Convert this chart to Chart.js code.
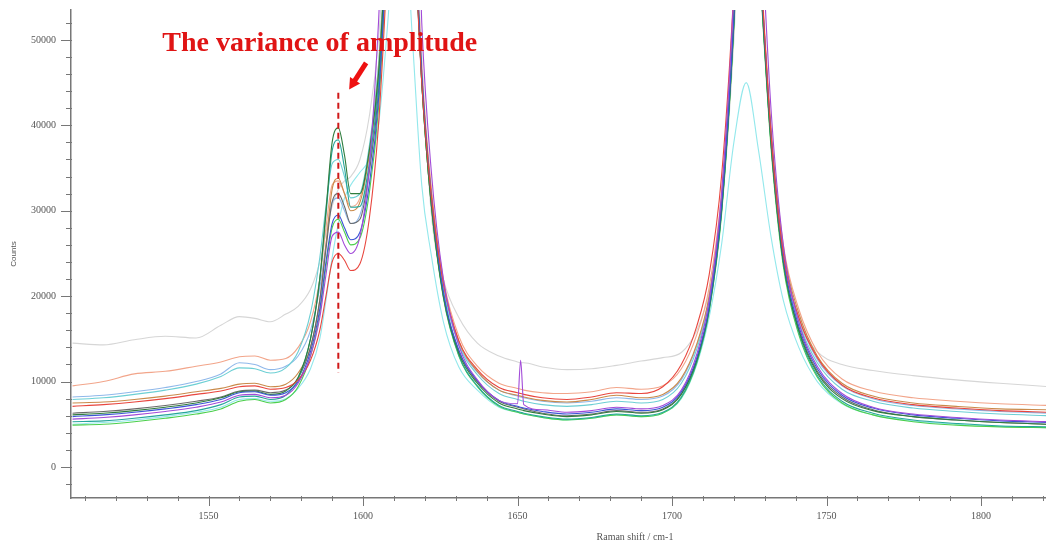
<!DOCTYPE html>
<html>
<head>
<meta charset="utf-8">
<script src="https://cdn.jsdelivr.net/npm/chart.js@4.4.1/dist/chart.umd.min.js"></script>
<style>
  body { margin: 0; background: #fff; overflow: hidden; }
  canvas { display: block; }
</style>
</head>
<body>
<canvas id="spectra" width="1046" height="547"></canvas>
<script>
// Raman spectra, counts vs raman shift (cm-1)
var ramanShift = [1506, 1516, 1526, 1536, 1546, 1554, 1560, 1565, 1570, 1575, 1579, 1583, 1586, 1588, 1590, 1592, 1594, 1596, 1599, 1602,
                  1605, 1608, 1612, 1616, 1619, 1622, 1626, 1631, 1637, 1644, 1650, 1651, 1652, 1658, 1666, 1674, 1682, 1690, 1697, 1703,
                  1708, 1712, 1716, 1720, 1724, 1728, 1732, 1736, 1741, 1747, 1755, 1765, 1778, 1792, 1806, 1822];

var gray = [14500, 14300, 14900, 15300, 15100, 16600, 17600, 17400, 17000, 17900, 18800, 20800, 24000, 27500, 30500, 32500, 33500, 34000, 36000, 41000,
            50000, 68000, 92000, 70000, 48000, 30000, 22000, 17500, 14500, 13000, 12300, 12200, 12200, 11700, 11400, 11500, 11900, 12400, 12800, 13400,
            16000, 20500, 30000, 50000, 82000, 60000, 38000, 24000, 17000, 13500, 12000, 11300, 10700, 10200, 9800, 9400];
var salmon = [9500, 10000, 10900, 11200, 11800, 12300, 12900, 13000, 12500, 12700, 14000, 17000, 22000, 28000, 33000, 33500, 32000, 30500, 31500, 37000,
              47000, 66000, 100000, 70000, 47000, 33000, 22000, 15300, 11800, 9800, 9200, 9100, 9000, 8700, 8600, 8800, 9300, 9100, 9500, 11500,
              15500, 21000, 32000, 54000, 88000, 63000, 40000, 26000, 18500, 13500, 10300, 8900, 8100, 7700, 7400, 7200];
var lightBlue = [8200, 8400, 8800, 9300, 10000, 10900, 12200, 12000, 11400, 11800, 13000, 16000, 21000, 26000, 31000, 31500, 30000, 28500, 29500, 35000,
                 45000, 64000, 98000, 68000, 45000, 31500, 21000, 14500, 11100, 9000, 8300, 8200, 8100, 7700, 7500, 7700, 8100, 7900, 8300, 10200,
                 14200, 19800, 31000, 53000, 87000, 62000, 39000, 25000, 17500, 12600, 9500, 8000, 7200, 6800, 6500, 6300];
var cyan = [7900, 8100, 8500, 9000, 9700, 10600, 11600, 11500, 11000, 11600, 13500, 18000, 24500, 30500, 35500, 36000, 34000, 31500, 32000, 37500,
            47000, 66000, 100000, 69000, 46000, 32000, 21000, 14300, 10800, 8600, 7900, 7800, 7700, 7300, 7100, 7300, 7700, 7500, 7900, 9800,
            13800, 19500, 30500, 52500, 86000, 61000, 38500, 24500, 17000, 12200, 9100, 7700, 6900, 6500, 6200, 6000];
var brown = [7500, 7600, 7900, 8300, 8800, 9200, 9700, 9800, 9400, 9700, 11000, 14000, 19500, 26000, 32500, 33800, 32000, 30000, 31000, 36500,
             46000, 65000, 99000, 69000, 46000, 32500, 21500, 14700, 11200, 9000, 8400, 8300, 8200, 7800, 7600, 7900, 8400, 8100, 8500, 10400,
             14400, 20000, 31000, 53000, 87000, 62000, 39500, 25500, 18000, 13000, 9800, 8300, 7500, 7100, 6800, 6700];
var red = [7100, 7300, 7600, 8000, 8500, 8900, 9400, 9500, 9100, 9300, 10200, 12500, 16000, 20000, 24000, 25000, 24200, 23000, 23800, 29000,
           40000, 60000, 95000, 67000, 45000, 32000, 21500, 14800, 11400, 9300, 8700, 8600, 8500, 8100, 7900, 8200, 8700, 8600, 9400, 12000,
           16500, 22500, 34000, 56000, 90000, 63000, 39000, 25000, 17500, 12800, 9600, 8100, 7300, 6900, 6600, 6400];
var darkGreen = [6100, 6300, 6600, 7000, 7500, 8100, 8800, 8900, 8500, 8900, 10500, 15000, 22000, 30000, 38000, 39700, 36500, 32000, 32000, 37000,
                 46000, 65000, 99000, 68000, 45000, 31000, 20000, 13300, 9800, 7500, 6800, 6700, 6600, 6200, 5900, 6100, 6500, 6300, 6700, 8500,
                 12500, 18500, 30000, 52000, 86000, 61000, 38000, 24000, 16000, 11000, 8000, 6600, 5900, 5500, 5200, 5000];
var blue = [5900, 6100, 6400, 6800, 7300, 7900, 8700, 8800, 8400, 8700, 10000, 13500, 18500, 24000, 28500, 29500, 28000, 26600, 27500, 33000,
            43000, 63000, 97000, 68000, 46000, 32000, 20500, 13700, 10100, 7800, 7100, 7000, 6900, 6500, 6200, 6400, 6800, 6600, 7000, 8800,
            12800, 18800, 30500, 52500, 87000, 62000, 39000, 24500, 16500, 11500, 8400, 6900, 6100, 5700, 5400, 5200];
var darkGray = [6300, 6500, 6800, 7200, 7700, 8200, 8900, 9000, 8700, 9000, 10400, 14000, 19500, 25500, 31000, 32000, 30500, 28500, 29000, 34500,
                44000, 64000, 97000, 67000, 45000, 31000, 20200, 13500, 10000, 7700, 7000, 6900, 6800, 6300, 6000, 6200, 6600, 6400, 6800, 8600,
                12600, 18600, 30000, 52000, 86000, 61000, 38500, 24000, 16200, 11200, 8200, 6700, 5900, 5500, 5200, 5000];
var green = [4900, 5000, 5300, 5700, 6200, 6800, 7700, 7900, 7500, 7900, 9400, 13000, 18000, 23500, 28000, 29000, 27500, 26000, 26800, 32000,
             42000, 62000, 96000, 67000, 45000, 31000, 19800, 13000, 9400, 7100, 6400, 6300, 6200, 5800, 5500, 5700, 6100, 5900, 6300, 8100,
             12200, 18200, 29500, 51500, 85000, 60500, 37500, 23500, 15500, 10500, 7500, 6100, 5300, 4900, 4700, 4600];
var teal = [5300, 5400, 5700, 6100, 6600, 7300, 8200, 8300, 7900, 8400, 10300, 15000, 22000, 29500, 37000, 38300, 35000, 30400, 30500, 35500,
            45000, 64000, 98000, 68000, 45500, 31500, 20000, 13100, 9500, 7200, 6500, 6400, 6300, 5900, 5600, 5800, 6200, 6000, 6400, 8200,
            12300, 18300, 29800, 52000, 86000, 61000, 38000, 24000, 15800, 10700, 7700, 6300, 5500, 5100, 4800, 4700];
var purple = [5600, 5800, 6100, 6500, 7000, 7600, 8400, 8500, 8100, 8400, 9800, 13000, 17500, 22500, 27000, 27500, 26000, 25000, 27000, 35000,
              52000, 76000, 120000, 86000, 52000, 35000, 22000, 14200, 10200, 7800, 7400, 12500, 7300, 6700, 6400, 6600, 7000, 6800, 7200, 9000,
              13200, 19500, 32000, 56000, 100000, 70000, 42000, 26000, 17000, 11800, 8600, 7000, 6200, 5800, 5500, 5300];
var lightCyan = [5000, 5200, 5500, 5900, 6400, 7000, 7900, 8000, 7700, 8000, 9200, 11500, 15000, 19500, 24500, 28500, 31500, 33000, 34500, 36000,
                 40000, 52000, 72000, 50000, 33000, 25000, 17000, 11700, 9000, 7000, 6400, 6300, 6200, 5800, 5500, 5700, 6100, 5900, 6300, 8000,
                 12000, 17500, 26000, 38000, 45000, 37000, 27000, 19500, 14000, 10000, 7400, 6100, 5400, 5000, 4800, 4600];

// tick positions
var countTicks = [-2000, 0, 2000, 4000, 6000, 8000, 10000, 12000, 14000, 16000, 18000, 20000, 22000, 24000,
                  26000, 28000, 30000, 32000, 34000, 36000, 38000, 40000, 42000, 44000, 46000, 48000, 50000, 52000];
var shiftTicks = [1510, 1520, 1530, 1540, 1550, 1560, 1570, 1580, 1590, 1600, 1610, 1620, 1630, 1640, 1650, 1660,
                  1670, 1680, 1690, 1700, 1710, 1720, 1730, 1740, 1750, 1760, 1770, 1780, 1790, 1800, 1810, 1820];

var spectra = [purple, red, blue, darkGreen, teal, green, darkGray, brown, cyan, lightBlue, salmon, lightCyan, gray];
var colors = ['#a24ad8', '#e8463e', '#3b55d6', '#2f7d3e', '#26a69a', '#4ccf4c', '#6a6a6a', '#c98a4a', '#6ccfd4', '#8fb8ea', '#f2a58a', '#93e8ec', '#d6d6d6'];

// annotation (data units)
var noteText = 'The variance of amplitude';
var markShift = 1592;

var datasets = spectra.map(function (s, i) {
    return {
        data: ramanShift.map(function (x, j) { return { x: x, y: s[j] }; }),
        borderColor: colors[i],
        borderWidth: 1.1,
        pointRadius: 0,
        cubicInterpolationMode: 'monotone',
        fill: false
    };
});

var tickFont = { family: 'Liberation Serif', size: 10 };

var decorations = {
    id: 'decorations',
    afterDraw: function (chart) {
        var ctx = chart.ctx, x = chart.scales.x, y = chart.scales.y, a = chart.chartArea;
        ctx.save();
        ctx.strokeStyle = '#777';
        ctx.lineWidth = 1;
        // tick marks, major and minor
        y.ticks.forEach(function (t) {
            var py = Math.round(y.getPixelForValue(t.value)) + 0.5;
            var len = t.value % 10000 === 0 ? 10 : 5;
            ctx.beginPath(); ctx.moveTo(a.left - len, py); ctx.lineTo(a.left + 1, py); ctx.stroke();
        });
        x.ticks.forEach(function (t) {
            var px = Math.round(x.getPixelForValue(t.value)) + 0.5;
            var major = t.value % 50 === 0;
            ctx.beginPath(); ctx.moveTo(px, a.bottom - 2); ctx.lineTo(px, a.bottom + (major ? 8 : 3)); ctx.stroke();
        });
        // x axis title
        ctx.fillStyle = '#555';
        ctx.font = '10px "Liberation Serif"';
        ctx.textAlign = 'center';
        ctx.textBaseline = 'middle';
        ctx.fillText('Raman shift / cm-1', x.getPixelForValue(1688), 537);

        // dashed marker
        ctx.strokeStyle = '#d01818';
        ctx.lineWidth = 2;
        ctx.setLineDash([6, 4]);
        var mx = x.getPixelForValue(markShift);
        ctx.beginPath(); ctx.moveTo(mx, y.getPixelForValue(43800)); ctx.lineTo(mx, y.getPixelForValue(11000)); ctx.stroke();
        ctx.setLineDash([]);

        // arrow
        var x0 = x.getPixelForValue(1601), y0 = y.getPixelForValue(47300);
        var x1 = x.getPixelForValue(1595.5), y1 = y.getPixelForValue(44200);
        var ang = Math.atan2(y1 - y0, x1 - x0);
        ctx.strokeStyle = '#ee1111';
        ctx.fillStyle = '#ee1111';
        ctx.lineWidth = 5;
        ctx.beginPath(); ctx.moveTo(x0, y0);
        ctx.lineTo(x1 - 6 * Math.cos(ang), y1 - 6 * Math.sin(ang)); ctx.stroke();
        ctx.beginPath();
        ctx.moveTo(x1, y1);
        ctx.lineTo(x1 - 11 * Math.cos(ang) + 6 * Math.sin(ang), y1 - 11 * Math.sin(ang) - 6 * Math.cos(ang));
        ctx.lineTo(x1 - 11 * Math.cos(ang) - 6 * Math.sin(ang), y1 - 11 * Math.sin(ang) + 6 * Math.cos(ang));
        ctx.closePath(); ctx.fill();

        // note
        ctx.fillStyle = '#e01414';
        ctx.font = 'bold 28px "Liberation Serif"';
        ctx.textAlign = 'center';
        ctx.textBaseline = 'middle';
        ctx.fillText(noteText, x.getPixelForValue(1586), y.getPixelForValue(49600));
        ctx.restore();
    }
};

var ctx = document.getElementById('spectra').getContext('2d');
var myChart = new Chart(ctx, {
    type: 'line',
    data: { datasets: datasets },
    options: {
        responsive: false,
        animation: false,
        devicePixelRatio: 1,
        layout: { padding: { top: 10, right: 0, left: 0, bottom: 0 } },
        plugins: { legend: { display: false }, tooltip: { enabled: false } },
        scales: {
            x: {
                type: 'linear',
                min: 1505.5,
                max: 1821,
                afterBuildTicks: function (s) { s.ticks = shiftTicks.map(function (v) { return { value: v }; }); },
                afterFit: function (s) { s.height = 49; s.paddingLeft = 0; s.paddingRight = 0; },
                grid: { display: false, drawTicks: false },
                border: { display: true, color: '#777', width: 1.5 },
                ticks: {
                    autoSkip: false,
                    maxRotation: 0,
                    padding: 12,
                    color: '#555',
                    font: tickFont,
                    callback: function (v) { return v % 50 === 0 ? String(v) : ''; }
                }
            },
            y: {
                min: -3630,
                max: 53500,
                afterBuildTicks: function (s) { s.ticks = countTicks.map(function (v) { return { value: v }; }); },
                afterFit: function (s) { s.width = 71; s.paddingTop = 0; s.paddingBottom = 0; },
                grid: { display: false, drawTicks: false },
                border: { display: true, color: '#777', width: 1.5 },
                title: { display: true, text: 'Counts', color: '#555', font: { family: 'Liberation Sans', size: 8 }, padding: { top: 9, bottom: 0 } },
                ticks: {
                    autoSkip: false,
                    padding: 15,
                    color: '#555',
                    font: tickFont,
                    callback: function (v) { return v % 10000 === 0 ? String(v) : ''; }
                }
            }
        }
    },
    plugins: [decorations]
});
</script>
</body>
</html>
